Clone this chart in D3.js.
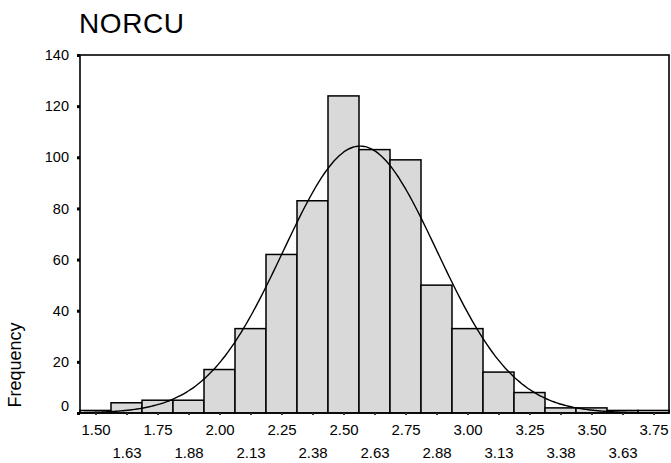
<!DOCTYPE html>
<html>
<head>
<meta charset="utf-8">
<script src="https://cdn.jsdelivr.net/npm/d3@7"></script>
<style>
  html, body { margin: 0; padding: 0; background: #fff; }
  svg { display: block; font-family: "Liberation Sans", Arial, sans-serif; }
</style>
</head>
<body>
<svg id="chart" width="671" height="463"></svg>
<script>
// Histogram of NORCU: bin midpoints (width 0.125) and their frequencies
const binMids = [1.5, 1.625, 1.75, 1.875, 2.0, 2.125, 2.25, 2.375, 2.5, 2.625,
                 2.75, 2.875, 3.0, 3.125, 3.25, 3.375, 3.5, 3.625, 3.75];
const counts  = [1, 4, 5, 5, 17, 33, 62, 83, 124, 103,
                 99, 50, 33, 16, 8, 2, 2, 1, 1];
const binWidth = 0.125;

// Axis labels (two staggered rows under the bins)
const xLabelsTop    = ["1.50", "1.75", "2.00", "2.25", "2.50", "2.75", "3.00", "3.25", "3.50", "3.75"];
const xLabelsBottom = ["1.63", "1.88", "2.13", "2.38", "2.63", "2.88", "3.13", "3.38", "3.63"];
const yTicks = [0, 20, 40, 60, 80, 100, 120, 140];

// Fitted normal curve parameters
const fitMean = 2.567;
const fitSd = 0.31;

(function () {
const svg = d3.select("#chart");
const plotLeft = 80, plotRight = 669, plotTop = 55, plotBottom = 413;

const x = d3.scaleLinear()
  .domain([binMids[0] - binWidth / 2, binMids[binMids.length - 1] + binWidth / 2])
  .range([plotLeft, plotRight]);
const y = d3.scaleLinear().domain([0, 140]).range([plotBottom, plotTop]);

// Title
svg.append("text")
  .attr("x", 79).attr("y", 33)
  .attr("font-size", 28)
  .attr("letter-spacing", 0.6)
  .attr("fill", "#000")
  .text("NORCU");

// Bars
svg.append("g").selectAll("rect")
  .data(binMids.map((m, i) => ({ m, c: counts[i] })))
  .join("rect")
  .attr("x", d => x(d.m - binWidth / 2))
  .attr("width", d => x(d.m + binWidth / 2) - x(d.m - binWidth / 2))
  .attr("y", d => y(d.c))
  .attr("height", d => y(0) - y(d.c))
  .attr("fill", "#d9d9d9")
  .attr("stroke", "#000")
  .attr("stroke-width", 1.5);

// Normal curve
const n = d3.sum(counts);
const curveXs = d3.range(x.domain()[0], x.domain()[1] + 1e-9, 0.01);
const pdf = v => n * binWidth / (fitSd * Math.sqrt(2 * Math.PI)) *
  Math.exp(-0.5 * Math.pow((v - fitMean) / fitSd, 2));
svg.append("path")
  .datum(curveXs)
  .attr("fill", "none")
  .attr("stroke", "#000")
  .attr("stroke-width", 1.4)
  .attr("d", d3.line().x(v => x(v)).y(v => y(pdf(v))).curve(d3.curveBasis));

// Frame
svg.append("rect")
  .attr("x", plotLeft).attr("y", plotTop)
  .attr("width", plotRight - plotLeft).attr("height", plotBottom - plotTop)
  .attr("fill", "none")
  .attr("stroke", "#000")
  .attr("stroke-width", 1.6);

// Y axis
const yAxis = svg.append("g")
  .attr("transform", `translate(${plotLeft},0)`)
  .call(d3.axisLeft(y).tickValues(yTicks).tickSize(3).tickPadding(8).tickFormat(d3.format("d")));
yAxis.select(".domain").remove();
yAxis.selectAll(".tick line").attr("stroke", "#000").attr("stroke-width", 3);
yAxis.selectAll(".tick text")
  .attr("font-size", 14.5)
  .attr("fill", "#000")
  .attr("font-family", "Liberation Sans, Arial, sans-serif")
  .attr("dy", d => d === 0 ? "-0.2em" : "0.32em");

// X axis: top label row
const xTop = svg.append("g")
  .attr("transform", `translate(0,${plotBottom})`)
  .call(d3.axisBottom(x).tickValues(binMids.filter((m, i) => i % 2 === 0))
    .tickSize(2).tickPadding(9).tickFormat((d, i) => xLabelsTop[i]));
xTop.select(".domain").remove();
xTop.selectAll(".tick line").attr("stroke", "#333").attr("stroke-width", 2);

// X axis: bottom label row
const xBot = svg.append("g")
  .attr("transform", `translate(0,${plotBottom})`)
  .call(d3.axisBottom(x).tickValues(binMids.filter((m, i) => i % 2 === 1))
    .tickSize(2).tickPadding(32).tickFormat((d, i) => xLabelsBottom[i]));
xBot.select(".domain").remove();
xBot.selectAll(".tick line").attr("stroke", "#333").attr("stroke-width", 2);

svg.selectAll(".tick text")
  .attr("font-family", "Liberation Sans, Arial, sans-serif")
  .attr("fill", "#000");
xTop.selectAll(".tick text").attr("font-size", 15);
xBot.selectAll(".tick text").attr("font-size", 15);

// Y axis title
svg.append("text")
  .attr("transform", "translate(21,365) rotate(-90)")
  .attr("text-anchor", "middle")
  .attr("font-size", 18)
  .attr("fill", "#000")
  .text("Frequency");
})();
</script>
</body>
</html>
